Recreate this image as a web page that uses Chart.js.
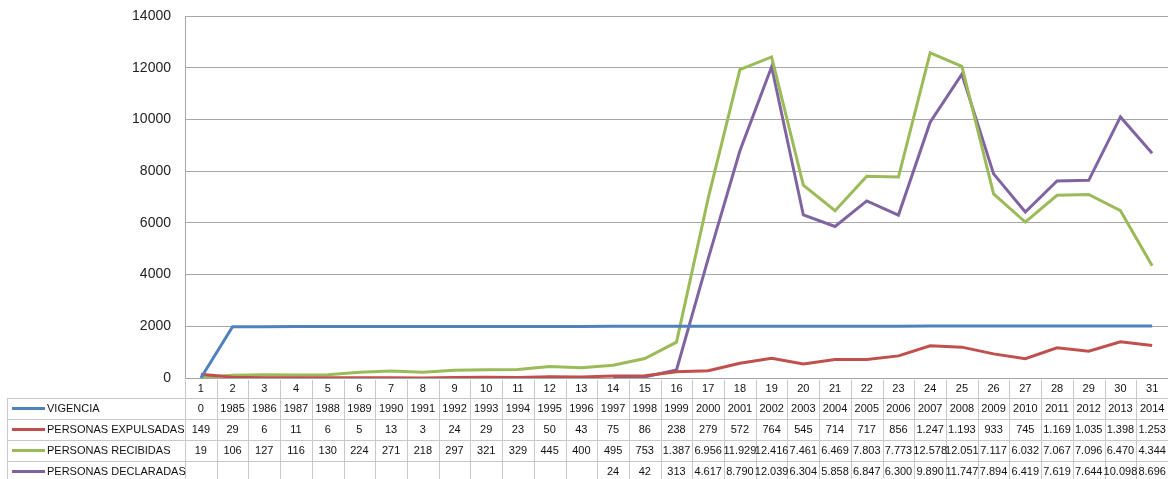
<!DOCTYPE html>
<html>
<head>
<meta charset="utf-8">
<script src="https://cdn.jsdelivr.net/npm/chart.js@4"></script>
<style>
  html, body { margin: 0; padding: 0; background: #fff; }
  #wrap { width: 1168px; height: 479px; position: relative; }
</style>
</head>
<body>
<div id="wrap"><canvas id="myChart" width="1168" height="479"></canvas></div>
<script>
const labels = [];
for (let i = 1; i <= 31; i++) labels.push(String(i));

const vigencia = [0, 1985, 1986, 1987, 1988, 1989, 1990, 1991, 1992, 1993, 1994, 1995, 1996, 1997, 1998, 1999,
  2000, 2001, 2002, 2003, 2004, 2005, 2006, 2007, 2008, 2009, 2010, 2011, 2012, 2013, 2014];
const expulsadas = [149, 29, 6, 11, 6, 5, 13, 3, 24, 29, 23, 50, 43, 75, 86, 238,
  279, 572, 764, 545, 714, 717, 856, 1247, 1193, 933, 745, 1169, 1035, 1398, 1253];
const recibidas = [19, 106, 127, 116, 130, 224, 271, 218, 297, 321, 329, 445, 400, 495, 753, 1387,
  6956, 11929, 12416, 7461, 6469, 7803, 7773, 12578, 12051, 7117, 6032, 7067, 7096, 6470, 4344];
const declaradas = [null, null, null, null, null, null, null, null, null, null, null, null, null, 24, 42, 313,
  4617, 8790, 12039, 6304, 5858, 6847, 6300, 9890, 11747, 7894, 6419, 7619, 7644, 10098, 8696];

const yTicks = [0, 2000, 4000, 6000, 8000, 10000, 12000, 14000];

// numbers in the table use a dot as thousands separator, years don't
function fmt(v, plain) {
  if (v === null || v === undefined) return "";
  if (plain) return String(v);
  return v.toLocaleString("de-DE");
}

const series = [
  { label: "VIGENCIA", data: vigencia, color: "#4f81bd", plain: true },
  { label: "PERSONAS EXPULSADAS", data: expulsadas, color: "#c0504d" },
  { label: "PERSONAS RECIBIDAS", data: recibidas, color: "#9bbb59" },
  { label: "PERSONAS DECLARADAS", data: declaradas, color: "#8064a2" },
];

// data table drawn under the plot, columns follow the x scale
const dataTable = {
  id: "dataTable",
  afterDraw(chart) {
    const ctx = chart.ctx;
    const x = chart.scales.x;
    const area = chart.chartArea;
    const top = area.bottom;
    const headH = 20, rowH = 21;
    const left = 7;
    const step = x.getPixelForValue(1) - x.getPixelForValue(0);
    ctx.save();
    ctx.strokeStyle = "#c8c8c8";
    ctx.lineWidth = 1;
    // horizontal lines
    for (let r = 0; r <= series.length; r++) {
      const y = Math.round(top + headH + r * rowH) + 0.5;
      ctx.beginPath();
      ctx.moveTo(left, y);
      ctx.lineTo(area.right, y);
      ctx.stroke();
    }
    // vertical lines
    ctx.beginPath();
    ctx.moveTo(left + 0.5, top + headH);
    ctx.lineTo(left + 0.5, top + headH + series.length * rowH);
    ctx.stroke();
    for (let i = 0; i <= labels.length; i++) {
      const px = Math.round(x.getPixelForValue(0) - step / 2 + i * step) + 0.5;
      ctx.beginPath();
      ctx.moveTo(px, top + 2);
      ctx.lineTo(px, top + headH + series.length * rowH);
      ctx.stroke();
    }
    ctx.fillStyle = "#111";
    ctx.font = "11px 'Liberation Sans', Arial, sans-serif";
    ctx.textAlign = "center";
    ctx.textBaseline = "middle";
    labels.forEach((l, i) => {
      ctx.fillText(l, x.getPixelForValue(i), top + headH / 2 + 1);
    });
    series.forEach((s, r) => {
      const cy = top + headH + r * rowH + rowH / 2;
      ctx.strokeStyle = s.color;
      ctx.lineWidth = 3;
      ctx.beginPath();
      ctx.moveTo(12, cy);
      ctx.lineTo(45, cy);
      ctx.stroke();
      ctx.textAlign = "left";
      ctx.fillText(s.label, 47, cy);
      ctx.textAlign = "center";
      s.data.forEach((v, i) => {
        ctx.fillText(fmt(v, s.plain), x.getPixelForValue(i), cy);
      });
    });
    ctx.restore();
  },
};

const ctx = document.getElementById("myChart");

new Chart(ctx, {
  type: "line",
  data: {
    labels: labels,
    datasets: series.map((s) => ({
      label: s.label,
      data: s.data,
      borderColor: s.color,
      backgroundColor: s.color,
      borderWidth: 3,
      pointRadius: 0,
      tension: 0,
      spanGaps: false,
    })),
  },
  options: {
    responsive: false,
    animation: false,
    layout: { padding: { top: 16, right: 0, bottom: 101, left: 0 } },
    plugins: {
      legend: { display: false },
      tooltip: { enabled: false },
    },
    scales: {
      x: {
        display: false,
        offset: true,
      },
      y: {
        min: 0,
        max: 14000,
        afterFit: (scale) => {
          scale.width = 185;
          scale.paddingTop = 0;
          scale.paddingBottom = 0;
        },
        afterBuildTicks: (scale) => { scale.ticks = yTicks.map((v) => ({ value: v })); },
        ticks: {
          padding: 14,
          color: "#222",
          font: { family: "'Liberation Sans', Arial, sans-serif", size: 14 },
          callback: (value) => String(value),
        },
        grid: { color: "#a6a6a6", drawTicks: false },
        border: { color: "#a6a6a6" },
      },
    },
  },
  plugins: [dataTable],
});
</script>
</body>
</html>
